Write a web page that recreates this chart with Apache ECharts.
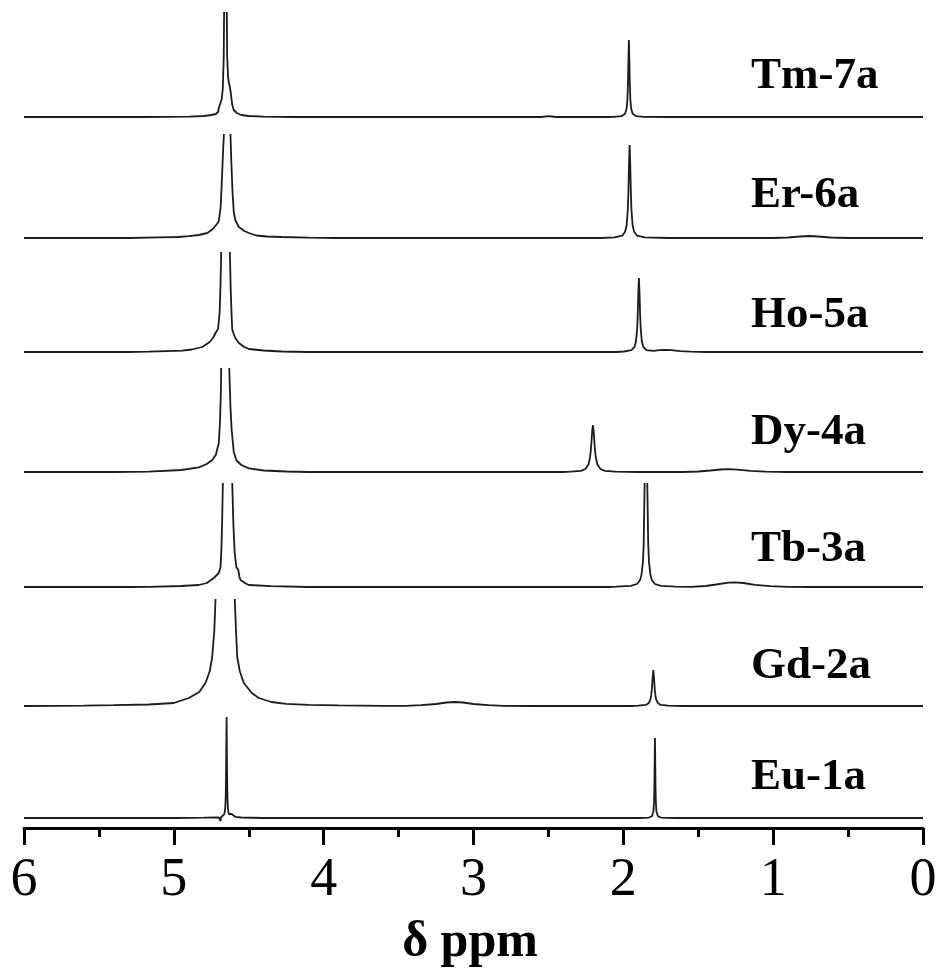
<!DOCTYPE html>
<html>
<head>
<meta charset="utf-8">
<script src="https://cdn.jsdelivr.net/npm/echarts@6/dist/echarts.min.js"></script>
<style>html,body{margin:0;padding:0;background:#fff}#c{width:940px;height:971px}</style>
</head>
<body>
<div id="c"></div>
<script>
// ---- Data: [chemical shift (ppm), intensity (arbitrary units)] ----
const tm7a = [[6,0],[5.2,0],[4.90,0.3],[4.80,1],[4.75,2],[4.72,3],[4.705,5],[4.70,9],[4.69,11],[4.68,18],[4.673,29],[4.667,60],[4.662,150],[4.655,320],[4.649,150],[4.644,60],[4.638,40],[4.632,34],[4.626,30],[4.62,24],[4.61,12],[4.60,7],[4.58,4],[4.55,2],[4.50,1],[4.40,0.3],[4.2,0],[2.55,0],[2.50,0.8],[2.45,0],[2.10,0],[2.063,0.2],[2.013,0.85],[1.988,3.3],[1.978,8.5],[1.973,16.8],[1.969,34],[1.966,58],[1.963,77],[1.960,58],[1.957,34],[1.953,16.8],[1.948,8.5],[1.938,3.3],[1.913,0.85],[1.863,0.2],[1.7,0],[0,0]];
const er6a = [[6,0],[5.3,0],[5.10,0.7],[4.97,1],[4.90,1.8],[4.833,3],[4.776,5],[4.74,9],[4.712,14],[4.70,17],[4.695,19],[4.688,30],[4.68,55],[4.672,85],[4.666,103],[4.662,140],[4.643,400],[4.626,140],[4.622,103],[4.616,75],[4.608,45],[4.60,26],[4.59,18],[4.566,11],[4.53,7],[4.499,5],[4.45,2.5],[4.38,1.5],[4.28,1],[4.1,0.3],[3.9,0],[2.15,0],[2.058,0.6],[2.008,2.3],[1.988,6.2],[1.978,12.8],[1.97,28.6],[1.966,46.5],[1.962,74.4],[1.958,93],[1.954,74.4],[1.950,46.5],[1.946,28.6],[1.938,12.8],[1.928,6.2],[1.908,2.3],[1.858,0.6],[1.7,0],[1.0,0],[0.9,0.5],[0.82,1.5],[0.76,2],[0.70,1.5],[0.62,0.5],[0.5,0],[0,0]];
const ho5a = [[6,0],[5.3,0],[5.167,0.3],[4.944,1.3],[4.88,2.5],[4.811,5],[4.76,10],[4.735,15],[4.722,19],[4.705,23],[4.70,25],[4.694,40],[4.688,70],[4.684,99],[4.679,140],[4.655,400],[4.631,140],[4.626,99],[4.62,60],[4.614,35],[4.61,22],[4.59,14],[4.566,9],[4.53,5],[4.499,3],[4.40,1.5],[4.28,0.5],[4.1,0],[2.05,0],[1.996,0.5],[1.946,1.8],[1.926,4.9],[1.916,10.2],[1.908,22.8],[1.904,37],[1.900,59],[1.896,74],[1.892,59],[1.888,37],[1.884,22.8],[1.876,10.2],[1.866,4.9],[1.846,1.8],[1.80,1.2],[1.76,1.8],[1.72,2.2],[1.68,1.8],[1.62,0.8],[1.55,0.3],[1.45,0],[0,0]];
const dy4a = [[6,0],[5.4,0],[5.167,0.3],[4.95,2],[4.833,4.7],[4.78,8],[4.744,12],[4.72,17],[4.70,29],[4.692,50],[4.686,80],[4.684,103],[4.679,140],[4.656,400],[4.634,140],[4.630,103],[4.622,65],[4.614,42],[4.60,20],[4.583,12],[4.55,7],[4.499,3.7],[4.40,1.5],[4.25,0.5],[4.099,0],[2.40,0],[2.353,0.35],[2.283,1.2],[2.253,3],[2.233,7.4],[2.223,14],[2.218,20],[2.213,29.5],[2.208,41],[2.203,47],[2.198,41],[2.193,29.5],[2.188,20],[2.183,14],[2.173,7.4],[2.153,3],[2.123,1.2],[2.053,0.35],[1.9,0],[1.6,0],[1.5,0.5],[1.42,1.5],[1.35,2.5],[1.30,2.8],[1.24,2.3],[1.15,1.2],[1.05,0.4],[0.9,0],[0,0]];
const tb3a = [[6,0],[5.3,0],[5.167,0.2],[4.95,1],[4.833,2],[4.78,4],[4.733,9],[4.70,14],[4.688,20],[4.682,40],[4.677,70],[4.673,103],[4.668,150],[4.641,400],[4.614,150],[4.610,103],[4.602,60],[4.594,35],[4.583,20],[4.575,18],[4.570,17],[4.562,10],[4.555,7],[4.52,3.5],[4.499,2],[4.35,0.8],[4.099,0],[2.10,0],[2.049,0.3],[1.949,1.1],[1.909,3.0],[1.889,6.8],[1.879,11.9],[1.869,25.7],[1.864,43.6],[1.858,103],[1.854,210],[1.849,400],[1.844,210],[1.840,103],[1.834,43.6],[1.829,25.7],[1.819,11.9],[1.809,6.8],[1.789,3.0],[1.749,1.1],[1.649,0.3],[1.55,0.2],[1.45,1],[1.38,2.5],[1.30,4.3],[1.257,4.7],[1.20,4],[1.12,2.2],[1.02,0.8],[0.9,0.2],[0.75,0],[0,0]];
const gd2a = [[6,0],[5.6,0.3],[5.4,0.8],[5.167,1.5],[5.0,3],[4.90,8],[4.83,14],[4.789,23],[4.76,35],[4.744,49],[4.73,75],[4.722,106],[4.714,150],[4.657,400],[4.60,150],[4.593,106],[4.585,75],[4.577,49],[4.56,35],[4.533,23],[4.48,13],[4.433,8],[4.35,4],[4.25,2.2],[4.10,1.2],[3.9,0.6],[3.6,0.2],[3.45,0.2],[3.35,0.8],[3.25,2],[3.18,3.5],[3.125,4],[3.07,3.5],[3.0,2],[2.90,0.8],[2.80,0.2],[2.6,0],[1.95,0],[1.90,0.3],[1.85,1.1],[1.83,3.0],[1.82,6.1],[1.815,9.5],[1.81,16.1],[1.805,27.5],[1.80,36],[1.795,27.5],[1.79,16.1],[1.785,9.5],[1.78,6.1],[1.77,3.0],[1.75,1.1],[1.70,0.3],[1.6,0],[0,0]];
const eu1a = [[6,0],[5.0,0],[4.80,0.3],[4.70,0.5],[4.69,0.3],[4.688,-3],[4.686,0.5],[4.676,1.1],[4.663,3.9],[4.658,8.3],[4.655,15.8],[4.653,26.7],[4.651,50.5],[4.648,101],[4.645,50.5],[4.643,26.7],[4.641,15.8],[4.638,8.3],[4.633,3.9],[4.625,2.5],[4.615,4],[4.61,5],[4.605,3],[4.59,1.2],[4.55,0.5],[4.40,0],[1.9,0],[1.829,0.45],[1.809,1.76],[1.799,6.6],[1.795,16],[1.793,29],[1.791,55],[1.789,80],[1.787,55],[1.785,29],[1.783,16],[1.779,6.6],[1.769,1.76],[1.749,0.45],[1.65,0],[0,0]];

const sampleNames = ['Tm-7a','Er-6a','Ho-5a','Dy-4a','Tb-3a','Gd-2a','Eu-1a'];
const spectra = [tm7a, er6a, ho5a, dy4a, tb3a, gd2a, eu1a];
const xTicks = [0,1,2,3,4,5,6];
const axisTitle = 'δ ppm';

// ---- Layout (pixel positions, kept separate from data) ----
const H = 971, W = 940;
const plotLeft = 24, plotRight = 923;
const clipTop = [13,135,253,369,484,600,620];
const baseY  = [117,238,352,472,587,706,818];
const axisY = 828;
const labelY = [77,196,316,433,550,667,778];
const labelX = 751;
const lineColor = '#1c1c1c';

const grids = [], xAxes = [], yAxes = [], series = [], graphics = [];
spectra.forEach((data, i) => {
  const last = i === spectra.length - 1;
  const bottomY = last ? axisY : baseY[i] + 5;
  grids.push({left: plotLeft, right: W - plotRight, top: clipTop[i], height: bottomY - clipTop[i]});
  xAxes.push({
    gridIndex: i, type: 'value', min: xTicks[0], max: xTicks[xTicks.length-1], interval: 1, inverse: true,
    show: last,
    axisLine: {show: true, onZero: false, lineStyle: {color: '#000', width: 3}},
    axisTick: {show: true, inside: false, length: 17, lineStyle: {color: '#000', width: 3}},
    minorTick: {show: true, splitNumber: 2, length: 9, lineStyle: {color: '#000', width: 3}},
    splitLine: {show: false}, minorSplitLine: {show: false},
    axisLabel: {show: true, fontSize: 54, fontFamily: 'Liberation Serif', color: '#000', margin: 26}
  });
  yAxes.push({
    gridIndex: i, type: 'value', show: false,
    min: last ? -(axisY - baseY[i]) : -5,
    max: baseY[i] - clipTop[i],
    splitLine: {show: false}
  });
  series.push({
    type: 'line', name: sampleNames[i], xAxisIndex: i, yAxisIndex: i, data: data,
    showSymbol: false, symbol: 'none', clip: true, animation: false,
    lineStyle: {color: lineColor, width: 1.8}
  });
  graphics.push({
    type: 'text', left: labelX, top: labelY[i] - 23,
    style: {text: sampleNames[i], font: 'bold 45px "Liberation Serif"', fill: '#000'}
  });
});
graphics.push({
  type: 'text', left: 'center', top: 918,
  style: {text: axisTitle, font: 'bold 50px "Liberation Serif"', fill: '#000'}
});

const chart = echarts.init(document.getElementById('c'), null, {renderer: 'canvas'});
chart.setOption({
  animation: false,
  backgroundColor: '#fff',
  grid: grids, xAxis: xAxes, yAxis: yAxes, series: series, graphic: graphics
});
</script>
</body>
</html>
